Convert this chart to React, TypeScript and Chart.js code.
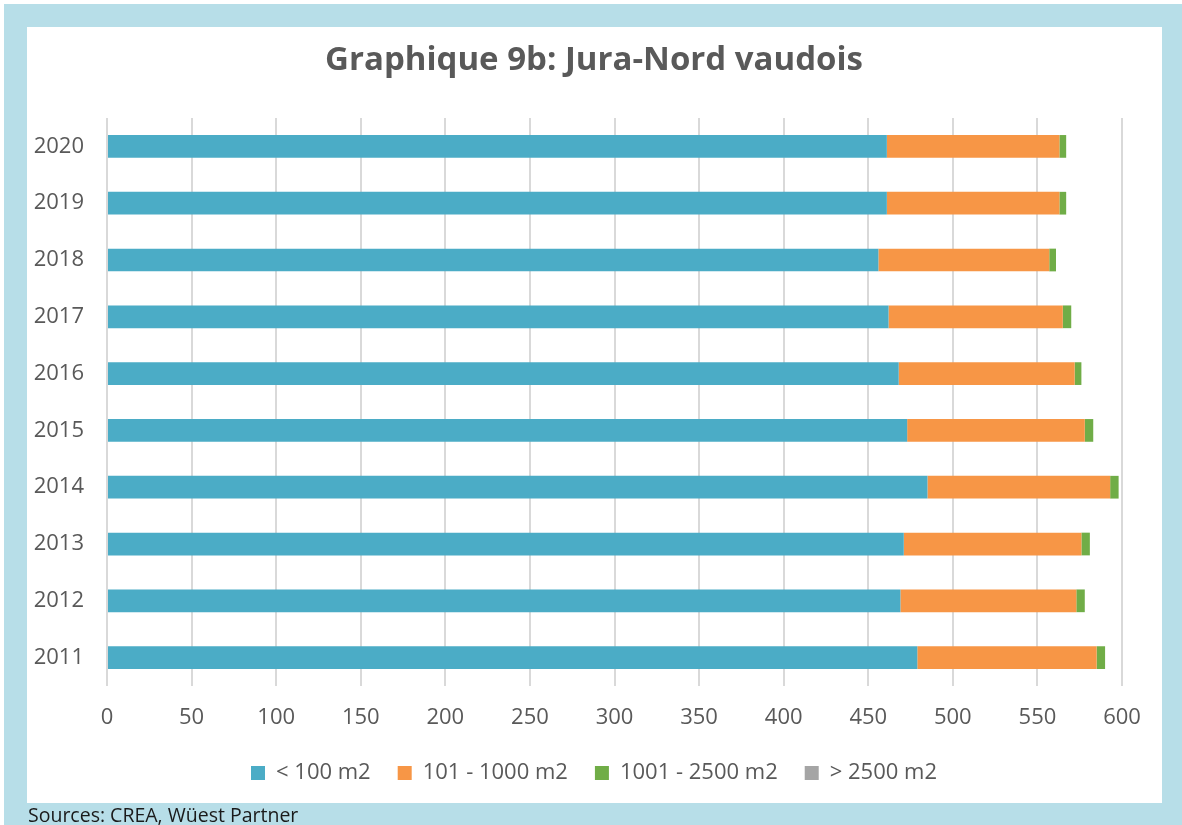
import React, { useEffect, useRef } from "react";
import { Chart, registerables } from "chart.js";

Chart.register(...registerables);

const years = ["2011", "2012", "2013", "2014", "2015", "2016", "2017", "2018", "2019", "2020"];
const under100 = [479, 469, 471, 485, 473, 468, 462, 456, 461, 461];
const from101to1000 = [106, 104, 105, 108, 105, 104, 103, 101, 102, 102];
const from1001to2500 = [5, 5, 5, 5, 5, 4, 5, 4, 4, 4];
const over2500 = [0, 0, 0, 0, 0, 0, 0, 0, 0, 0];
const seriesNames = ["< 100 m2", "101 - 1000 m2", "1001 - 2500 m2", "> 2500 m2"];
const seriesColors = ["#4bacc6", "#f79646", "#70ad47", "#a5a5a5"];
const xTicks = { min: 0, max: 600, step: 50 };

const TEXT = "#595959";
const FONT = "'Open Sans', sans-serif";

export default function App() {
  const ref = useRef<HTMLCanvasElement | null>(null);

  useEffect(() => {
    if (!ref.current) return;
    const seriesData = [under100, from101to1000, from1001to2500, over2500];
    const chart = new Chart(ref.current, {
      type: "bar",
      data: {
        labels: years,
        datasets: seriesData.map((d, i) => ({
          label: seriesNames[i],
          data: d,
          backgroundColor: seriesColors[i],
          borderWidth: 0,
          barPercentage: 0.4,
          categoryPercentage: 1,
        })),
      },
      options: {
        indexAxis: "y",
        responsive: false,
        animation: false,
        layout: { padding: { left: 39, right: 40, top: 0, bottom: 9 } },
        scales: {
          x: {
            stacked: true,
            min: xTicks.min,
            max: xTicks.max,
            ticks: {
              stepSize: xTicks.step,
              color: TEXT,
              font: { family: FONT, size: 22, lineHeight: 1.09 },
              padding: 5,
            },
            grid: {
              color: "#d9d9d9",
              lineWidth: 2,
              drawTicks: true,
              tickLength: 15,
              tickColor: "rgba(0,0,0,0)",
            },
            border: { display: false },
          },
          y: {
            stacked: true,
            reverse: true,
            ticks: {
              color: TEXT,
              font: { family: FONT, size: 22 },
              padding: 23,
            },
            grid: { display: false, drawTicks: false },
            border: { display: false },
            afterFit: (scale: any) => {
              scale.width = 41;
              scale._computeLabelArea = () => undefined;
            },
          },
        },
        plugins: {
          title: {
            display: true,
            text: "Graphique 9b: Jura-Nord vaudois",
            color: TEXT,
            font: { family: FONT, size: 33, weight: "bold" },
            padding: { top: 14, bottom: 37.4 },
          },
          legend: {
            position: "bottom",
            labels: {
              color: TEXT,
              font: { family: FONT, size: 22 },
              boxWidth: 14,
              boxHeight: 14,
              padding: 27,
            },
          },
          tooltip: { enabled: false },
        },
      },
    });
    return () => chart.destroy();
  }, []);

  return (
    <div style={{ position: "absolute", left: 0, top: 0, width: 1182, height: 825, background: "#ffffff", overflow: "hidden" }}>
      <div style={{ position: "absolute", left: 4, top: 4, width: 1178, height: 821, background: "#b7dee8" }} />
      <div style={{ position: "absolute", left: 27, top: 27, width: 1135, height: 776, background: "#ffffff" }} />
      <canvas ref={ref} width={1135} height={776} style={{ position: "absolute", left: 27, top: 27 }} />
      <div
        style={{
          position: "absolute",
          left: 28,
          top: 805,
          fontFamily: FONT,
          fontSize: 19.5,
          lineHeight: 1,
          color: "#1a1a1a",
          whiteSpace: "nowrap",
        }}
      >
        Sources: CREA, Wüest Partner
      </div>
    </div>
  );
}
